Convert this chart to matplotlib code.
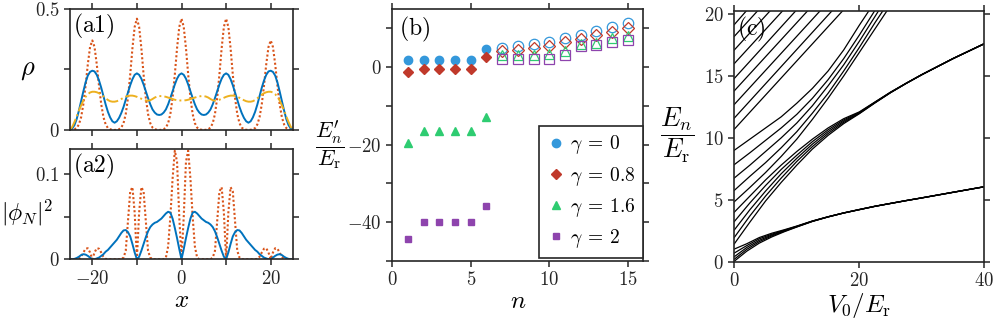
import numpy as np
import matplotlib
matplotlib.use('Agg')
import matplotlib.pyplot as plt

plt.rcParams['mathtext.fontset'] = 'cm'
plt.rcParams['font.family'] = 'serif'
plt.rcParams['font.serif'] = ['DejaVu Serif']

# ---------- panel (a): densities on x = 0..25 (step 0.5), mirrored ----------
a1_blue = [0.234, 0.228, 0.212, 0.188, 0.160, 0.132, 0.106, 0.085, 0.072, 0.064, 0.062,
           0.064, 0.072, 0.085, 0.106, 0.132, 0.160, 0.188, 0.212, 0.228, 0.234,
           0.228, 0.210, 0.185, 0.155, 0.125, 0.095, 0.070, 0.050, 0.036, 0.030,
           0.036, 0.052, 0.075, 0.105, 0.140, 0.175, 0.205, 0.228, 0.242, 0.245,
           0.240, 0.225, 0.197, 0.160, 0.120, 0.080, 0.045, 0.020, 0.006, 0.0]
a1_red = [0.46, 0.426, 0.338, 0.229, 0.133, 0.066, 0.028, 0.010, 0.003, 0.001, 0.0,
          0.001, 0.003, 0.010, 0.028, 0.066, 0.133, 0.229, 0.338, 0.426, 0.46,
          0.426, 0.338, 0.229, 0.133, 0.066, 0.028, 0.010, 0.003, 0.001, 0.0,
          0.001, 0.003, 0.008, 0.023, 0.053, 0.107, 0.184, 0.272, 0.343, 0.37,
          0.343, 0.272, 0.184, 0.107, 0.053, 0.023, 0.008, 0.003, 0.001, 0.0]
a1_yellow = [0.122, 0.122, 0.123, 0.125, 0.128, 0.131, 0.134, 0.137, 0.139, 0.140, 0.140,
             0.138, 0.134, 0.128, 0.123, 0.121, 0.122, 0.125, 0.129, 0.133, 0.137,
             0.140, 0.142, 0.142, 0.141, 0.138, 0.133, 0.128, 0.123, 0.119, 0.117,
             0.117, 0.119, 0.124, 0.131, 0.139, 0.146, 0.152, 0.156, 0.158, 0.158,
             0.155, 0.148, 0.137, 0.122, 0.102, 0.080, 0.056, 0.033, 0.013, 0.0]

a2_blue = [0.0, 0.012, 0.025, 0.037, 0.048, 0.055, 0.056, 0.054, 0.051, 0.048, 0.046,
           0.044, 0.043, 0.041, 0.038, 0.033, 0.026, 0.018, 0.010, 0.003, 0.0,
           0.008, 0.018, 0.027, 0.032, 0.0345, 0.034, 0.031, 0.027, 0.023, 0.020,
           0.017, 0.014, 0.011, 0.009, 0.006, 0.004, 0.002, 0.001, 0.0, 0.0,
           0.002, 0.004, 0.0055, 0.006, 0.005, 0.003, 0.0015, 0.0005, 0.0, 0.0]
a2_red = [0.0, 0.05, 0.115, 0.128, 0.095, 0.05, 0.015, 0.002, 0.0, 0.0, 0.0,
          0.0, 0.0, 0.0, 0.002, 0.01, 0.045, 0.08, 0.085, 0.055, 0.0,
          0.055, 0.085, 0.08, 0.045, 0.01, 0.002, 0.0, 0.0, 0.0, 0.0,
          0.0, 0.0, 0.0, 0.0005, 0.003, 0.008, 0.0125, 0.013, 0.008, 0.0,
          0.008, 0.013, 0.0125, 0.008, 0.003, 0.0005, 0.0, 0.0, 0.0, 0.0]

# ---------- panel (b): levels ----------
n = list(range(1, 16))
E_g0 = [1.8, 1.8, 1.8, 1.8, 1.8, 4.6, 5.0, 5.4, 6.0, 6.4, 7.6, 8.4, 9.3, 10.4, 11.5]
E_g08 = [-1.3, -0.6, -0.6, -0.6, -0.6, 2.7, 4.1, 4.4, 5.0, 5.4, 6.6, 7.3, 8.2, 9.1, 10.0]
E_g16 = [-19.7, -16.4, -16.4, -16.4, -16.4, -12.8, 3.0, 3.0, 3.2, 3.3, 4.2, 6.0, 6.2, 7.5, 8.0]
E_g2 = [-44.4, -40.0, -40.0, -40.0, -40.0, -35.9, 2.0, 2.0, 2.2, 2.2, 3.2, 5.4, 5.6, 6.4, 7.0]
n_bound = 6

# ---------- panel (c): spectrum vs V0 ----------
band1_v0 = [0, 2, 4, 6, 8, 10, 12.5, 15, 17.5, 20, 22.5, 25, 27.5, 30, 35, 40]
band1 = [[0.04, 0.85, 1.50, 2.00, 2.42, 2.80, 3.25, 3.61, 3.93, 4.20, 4.47, 4.70, 4.93, 5.15, 5.60, 6.05],
         [0.20, 1.00, 1.62, 2.08, 2.46, 2.82, 3.26, 3.62, 3.93, 4.20, 4.47, 4.70, 4.93, 5.15, 5.60, 6.05],
         [0.40, 1.15, 1.73, 2.15, 2.50, 2.84, 3.27, 3.62, 3.94, 4.21, 4.47, 4.71, 4.94, 5.15, 5.61, 6.05],
         [0.70, 1.30, 1.85, 2.22, 2.54, 2.86, 3.28, 3.63, 3.94, 4.21, 4.48, 4.71, 4.94, 5.16, 5.61, 6.06],
         [1.02, 1.45, 1.95, 2.30, 2.58, 2.88, 3.29, 3.63, 3.94, 4.22, 4.48, 4.71, 4.94, 5.16, 5.61, 6.06]]
band2_v0 = [0, 2.5, 5, 7.5, 10, 12.5, 15, 17.5, 20, 22.5, 25, 27.5, 30, 35, 40]
band2 = [[1.44, 3.2, 4.9, 6.4, 7.8, 9.1, 10.2, 11.15, 11.95, 12.82, 13.65, 14.40, 15.10, 16.40, 17.60],
         [1.96, 3.7, 5.3, 6.75, 8.1, 9.3, 10.35, 11.25, 11.98, 12.84, 13.66, 14.40, 15.10, 16.40, 17.60],
         [2.56, 4.2, 5.7, 7.1, 8.35, 9.5, 10.5, 11.35, 12.02, 12.86, 13.67, 14.41, 15.11, 16.41, 17.61],
         [3.24, 4.75, 6.15, 7.45, 8.6, 9.7, 10.65, 11.45, 12.06, 12.88, 13.68, 14.41, 15.11, 16.41, 17.61],
         [4.00, 5.30, 6.60, 7.80, 8.9, 9.9, 10.8, 11.55, 12.10, 12.90, 13.70, 14.42, 15.12, 16.42, 17.62]]
band3_v0 = [0, 2.5, 5, 7.5, 10, 12.5, 15, 17.5, 20, 22.5, 25]
band3 = [[4.84, 6.0, 7.2, 8.5, 9.9, 11.5, 13.2, 15.0, 16.9, 18.8, 20.7],
         [5.76, 6.9, 8.0, 9.2, 10.5, 12.0, 13.6, 15.4, 17.3, 19.3, 21.2],
         [6.76, 7.8, 8.9, 10.0, 11.2, 12.6, 14.2, 15.9, 17.8, 19.8, 21.8],
         [7.84, 8.8, 9.8, 10.8, 11.9, 13.2, 14.7, 16.4, 18.3, 20.3, 22.3],
         [9.00, 9.9, 10.8, 11.7, 12.8, 14.0, 15.4, 17.1, 19.1, 21.0, 23.0]]
fan_e0 = [10.7, 11.6, 12.7, 13.8, 14.8, 16.0, 17.1, 18.2, 19.15]
fan_v0_top = [17.4, 15.7, 13.8, 11.8, 9.9, 7.8, 5.8, 3.8, 2.0]
fan_e_top = 20.3

c_blue, c_red, c_yel = '#0072BD', '#D95319', '#EDB120'
m_blue, m_red, m_green, m_purple = '#3498DB', '#C0392B', '#2ECC71', '#8E44AD'
ink = '#262626'
dotted = (0, (1, 1.1))


def mirror(h):
    h = np.asarray(h)
    return np.concatenate([h[:0:-1], h])


def style(ax):
    for s in ax.spines.values():
        s.set_linewidth(1.2)
        s.set_color(ink)
    ax.tick_params(which='both', direction='out', top=True, right=True,
                   length=4, width=1.1, color=ink, labelsize=13.5, labelcolor=ink)


def mlabels(vals):
    return ['$%g$' % v for v in vals]


xh = np.arange(0, 25.5, 0.5)
x = np.concatenate([-xh[:0:-1], xh])

fig = plt.figure(figsize=(9.97, 3.34), dpi=100)
ax1 = fig.add_axes([0.0702, 0.6108, 0.2237, 0.3623])
ax2 = fig.add_axes([0.0702, 0.2237, 0.2237, 0.3302])
axb = fig.add_axes([0.3935, 0.2195, 0.2518, 0.7536])
axc = fig.add_axes([0.7365, 0.2165, 0.2508, 0.7506])

# (a1)
ax1.plot(x, mirror(a1_red), linestyle=dotted, color=c_red, lw=1.5)
ax1.plot(x, mirror(a1_blue), '-', color=c_blue, lw=1.4)
ax1.plot(x, mirror(a1_yellow), '-.', color=c_yel, lw=1.4)
ax1.set_xlim(-25, 25)
ax1.set_ylim(0, 0.5)
ax1.set_xticks([-20, 0, 20])
ax1.set_xticks([-10, 10], minor=True)
ax1.set_xticklabels([])
ax1.set_yticks([0, 0.5])
ax1.set_yticklabels(mlabels([0, 0.5]))
ax1.set_yticks([0.25], minor=True)
ax1.set_ylabel(r'$\rho$', rotation=0, fontsize=19, ha='center', va='center')
ax1.yaxis.set_label_coords(-0.19, 0.5)
ax1.text(0.015, 0.975, r'$\mathrm{(a1)}$', transform=ax1.transAxes, fontsize=17,
         ha='left', va='top')
style(ax1)

# (a2)
ax2.plot(x, mirror(a2_red), linestyle=dotted, color=c_red, lw=1.5)
ax2.plot(x, mirror(a2_blue), '-', color=c_blue, lw=1.4)
ax2.set_xlim(-25, 25)
ax2.set_ylim(0, 0.13)
ax2.set_xticks([-20, 0, 20])
ax2.set_xticklabels(mlabels([-20, 0, 20]))
ax2.set_xticks([-10, 10], minor=True)
ax2.set_yticks([0, 0.1])
ax2.set_yticklabels(mlabels([0, 0.1]))
ax2.set_yticks([0.05], minor=True)
ax2.set_xlabel('$x$', fontsize=18, labelpad=1)
ax2.set_ylabel(r'$|\phi_N|^2$', rotation=0, fontsize=17, ha='center', va='center')
ax2.yaxis.set_label_coords(-0.19, 0.42)
ax2.text(0.015, 0.975, r'$\mathrm{(a2)}$', transform=ax2.transAxes, fontsize=17,
         ha='left', va='top')
style(ax2)

# (b)
series = [(E_g0, 'o', m_blue, 6, r'$\gamma\:=\:0$'),
          (E_g08, 'D', m_red, 5, r'$\gamma\:=\:0.8$'),
          (E_g16, '^', m_green, 6, r'$\gamma\:=\:1.6$'),
          (E_g2, 's', m_purple, 5, r'$\gamma\:=\:2$')]
for E, mk, col, ms, lab in series:
    axb.plot(n[:n_bound], E[:n_bound], mk, color=col, ms=ms, mec=col, label=lab,
             linestyle='none')
    axb.plot(n[n_bound:], E[n_bound:], mk, mfc='none', mec=col, ms=ms + 1.5,
             mew=0.9, linestyle='none')
axb.set_xlim(0, 16)
axb.set_ylim(-50, 15)
axb.set_xticks([0, 5, 10, 15])
axb.set_xticklabels(mlabels([0, 5, 10, 15]))
axb.set_yticks([-40, -20, 0])
axb.set_yticklabels(mlabels([-40, -20, 0]))
axb.set_yticks([-50, -30, -10, 10], minor=True)
axb.set_xlabel('$n$', fontsize=18, labelpad=1)
axb.set_ylabel(r"$\dfrac{E_n^{\prime}}{E_{\rm r}}$", rotation=0, fontsize=16,
               ha='center', va='center')
axb.yaxis.set_label_coords(-0.25, 0.46)
axb.text(0.025, 0.975, r'$\mathrm{(b)}$', transform=axb.transAxes, fontsize=17,
         ha='left', va='top')
leg = axb.legend(loc='lower right', bbox_to_anchor=(1.0, 0.012), borderaxespad=0,
                 fontsize=14, fancybox=False, edgecolor=ink, framealpha=1,
                 handletextpad=0.2, handlelength=1.0, labelspacing=0.42,
                 borderpad=0.4)
leg.get_frame().set_linewidth(1.2)
style(axb)

# (c)
for line in band1:
    axc.plot(band1_v0, line, color='k', lw=0.9)
for line in band2:
    axc.plot(band2_v0, line, color='k', lw=0.9)
for line in band3:
    axc.plot(band3_v0, line, color='k', lw=0.9)
for e0, vt in zip(fan_e0, fan_v0_top):
    axc.plot([0, vt], [e0, fan_e_top], color='k', lw=0.9)
axc.set_xlim(0, 40)
axc.set_ylim(0, 20.25)
axc.set_xticks([0, 20, 40])
axc.set_xticklabels(mlabels([0, 20, 40]))
axc.set_yticks([0, 5, 10, 15, 20])
axc.set_yticklabels(mlabels([0, 5, 10, 15, 20]))
axc.set_xlabel(r'$V_0/E_{\rm r}$', fontsize=18, labelpad=1)
axc.set_ylabel(r'$\dfrac{E_n}{E_{\rm r}}$', rotation=0, fontsize=19,
               ha='center', va='center')
axc.yaxis.set_label_coords(-0.23, 0.505)
axc.text(0.012, 0.985, r'$\mathrm{(c)}$', transform=axc.transAxes, fontsize=17,
         ha='left', va='top')
style(axc)

fig.savefig('out.png', dpi=100)
